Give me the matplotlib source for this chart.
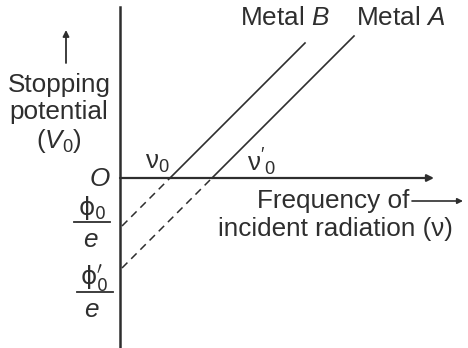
import matplotlib.pyplot as plt
import numpy as np

plt.rcParams['font.family'] = ['Liberation Sans', 'DejaVu Sans']
plt.rcParams['mathtext.fontset'] = 'custom'
plt.rcParams['mathtext.rm'] = 'Liberation Sans'
plt.rcParams['mathtext.it'] = 'Liberation Sans:italic'

# schematic values (origin at O, arbitrary units)
metals = ['B', 'A']
thresholds = [50, 92]        # nu0, nu0'
nu_end = [185, 234]          # where each solid line stops
slope = 1.0                  # h/e

ink = '#2e2e2e'
fs = 18.8

fig = plt.figure(figsize=(4.68, 3.48), dpi=100)
ax = fig.add_axes([0, 0, 1, 1])
ax.set_xlim(-120, 348)
ax.set_ylim(-170, 178)
ax.axis('off')

# axes
ax.plot([0, 0], [-175, 171], color=ink, lw=1.8)
ax.annotate('', xy=(314, 0), xytext=(0, 0),
            arrowprops=dict(arrowstyle='-|>', color=ink, lw=1.6,
                            mutation_scale=10, shrinkA=0, shrinkB=0))

for m, nu0, ne in zip(metals, thresholds, nu_end):
    nu = np.array([nu0, ne])
    ax.plot(nu, slope * (nu - nu0), color=ink, lw=1.2)
    nd = np.array([2, nu0])
    ax.plot(nd, slope * (nd - nu0), color=ink, lw=1.1, ls=(0, (5, 3.5)))

# labels
ax.text(165, 160, 'Metal $\\mathit{B}$', fontsize=fs, color=ink,
        ha='center', va='center')
ax.text(281, 160, 'Metal $\\mathit{A}$', fontsize=fs, color=ink,
        ha='center', va='center')

ax.annotate('', xy=(-54, 148), xytext=(-54, 115),
            arrowprops=dict(arrowstyle='-|>', color=ink, lw=1.3,
                            mutation_scale=9, shrinkA=0, shrinkB=0))
ax.text(-61, 64, 'Stopping\npotential\n($\\mathit{V}_0$)', fontsize=fs, color=ink,
        ha='center', va='center', linespacing=1.17)

ax.text(-20, -1, '$\\mathit{O}$', fontsize=fs, color=ink, ha='center', va='center')
ax.text(37, 15, '$\\mathrm{ν}_0$', fontsize=fs, color=ink, ha='center', va='center')
ax.text(142, 16, "$\\mathrm{ν}'_0$", fontsize=fs, color=ink, ha='center', va='center')

ax.text(289, -23, 'Frequency of', fontsize=fs, color=ink, ha='right', va='center')
ax.annotate('', xy=(343, -23), xytext=(292, -23),
            arrowprops=dict(arrowstyle='-|>', color=ink, lw=1.2,
                            mutation_scale=8, shrinkA=0, shrinkB=0))
ax.text(333, -51, 'incident radiation (ν)', fontsize=fs, color=ink,
        ha='right', va='center')

# intercept fractions
ax.text(-28, -30, '$\\mathrm{\\phi}_0$', fontsize=fs - 1, color=ink, ha='center',
        va='center', math_fontfamily='dejavusans')
ax.plot([-46, -10], [-44, -44], color=ink, lw=1.3)
ax.text(-29, -62, '$e$', fontsize=fs, color=ink, ha='center', va='center')

ax.text(-26, -101, "$\\mathrm{\\phi}_0^{\\prime}$", fontsize=fs - 1, color=ink,
        ha='center', va='center', math_fontfamily='dejavusans')
ax.plot([-43, -7], [-114, -114], color=ink, lw=1.3)
ax.text(-28, -132, '$e$', fontsize=fs, color=ink, ha='center', va='center')

fig.savefig('out.png', dpi=100)
